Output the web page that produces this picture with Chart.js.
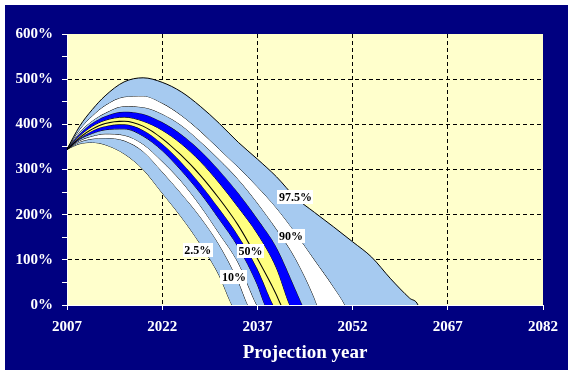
<!DOCTYPE html>
<html>
<head>
<meta charset="utf-8">
<script src="https://cdn.jsdelivr.net/npm/chart.js@4/dist/chart.umd.min.js"></script>
<style>
  html, body { margin: 0; padding: 0; background: #fff; }
  canvas { display: block; }
</style>
</head>
<body>
<canvas id="fan" width="573" height="375"></canvas>
<script>
// projection years
const years = [2007, 2009, 2011, 2013, 2016, 2019, 2022, 2025, 2028, 2031, 2034, 2037, 2040, 2043, 2046, 2049, 2052, 2055, 2058, 2061];

// percentile curves (%), read until each one runs out at 0%
const p975 = [345, 396, 433, 463, 494, 503, 493, 472, 440, 402, 360, 323, 284, 238, 205, 173, 140, 106, 58, 15];
const p90  = [345, 389, 419, 442, 461, 463, 447, 420, 385, 345, 305, 262, 215, 160, 100, 40];
const p80  = [345, 383, 408, 425, 440, 438, 423, 398, 362, 322, 278, 226, 168, 103, 15];
const p70  = [345, 379, 403, 418, 428, 423, 405, 378, 342, 298, 248, 191, 128, 35];
const p60  = [345, 375, 396, 409, 416, 407, 387, 357, 318, 270, 216, 158, 82];
const p50  = [345, 372, 391, 403, 408, 397, 370, 333, 289, 237, 178, 105, 25];
const p40  = [345, 369, 386, 396, 400, 387, 357, 316, 268, 213, 153, 80];
const p30  = [345, 367, 380, 388, 390, 374, 342, 298, 248, 190, 128, 45];
const p20  = [345, 364, 374, 379, 376, 356, 318, 274, 220, 158, 93];
const p10  = [345, 361, 368, 370, 364, 340, 295, 247, 195, 133, 52];
const p025 = [345, 357, 360, 355, 335, 300, 248, 195, 135, 65];

// year where each curve reaches 0%
const zeroYear = { p975: 2062.3, p90: 2050.8, p80: 2046.4, p70: 2044.1, p60: 2042.1, p50: 2040.8, p40: 2039.5, p30: 2038.2, p20: 2036.9, p10: 2035.5, p025: 2033.0 };

const xTicks = [2007, 2022, 2037, 2052, 2067, 2082];
const yTicks = [0, 50, 100, 150, 200, 250, 300, 350, 400, 450, 500, 550, 600];

const bandLabels = [
  { text: '97.5%', year: 2043.0, value: 239 },
  { text: '90%',   year: 2042.3, value: 153 },
  { text: '50%',   year: 2035.9, value: 120 },
  { text: '2.5%',  year: 2027.6, value: 122 },
  { text: '10%',   year: 2033.3, value: 62 }
];

const NAVY = '#000080', CREAM = '#FFFFCC', LBLUE = '#A6CAF0', BLUE = '#0000FF', YELLOW = '#FFFF80';

function curve(vals, zero) {
  const pts = vals.map((v, i) => ({ x: years[i], y: v }));
  pts.push({ x: zero, y: 0 });
  pts.push({ x: 2082, y: -1000 }); // runs off below the axis, clipped
  return pts;
}

function band(name, vals, fillColor, width) {
  return {
    label: name,
    data: curve(vals, zeroYear[name]),
    borderColor: '#000',
    borderWidth: width || 1,
    backgroundColor: fillColor,
    fill: fillColor ? '+1' : false,
    pointRadius: 0,
    cubicInterpolationMode: 'monotone'
  };
}

const backdrop = {
  id: 'backdrop',
  beforeDraw(chart) {
    const { ctx, chartArea: a } = chart;
    ctx.save();
    ctx.fillStyle = '#fff';
    ctx.fillRect(0, 0, chart.width, chart.height);
    ctx.fillStyle = NAVY;
    ctx.fillRect(5, 5, chart.width - 10, chart.height - 10);
    ctx.fillStyle = CREAM;
    ctx.fillRect(a.left, a.top, a.right - a.left, a.bottom - a.top);
    ctx.restore();
  }
};

const tags = {
  id: 'tags',
  afterDatasetsDraw(chart) {
    const { ctx, scales: { x, y } } = chart;
    ctx.save();
    ctx.font = 'bold 12px "Liberation Serif", serif';
    ctx.textAlign = 'center';
    ctx.textBaseline = 'middle';
    bandLabels.forEach(l => {
      const px = x.getPixelForValue(l.year), py = y.getPixelForValue(l.value);
      const w = ctx.measureText(l.text).width + 3;
      ctx.fillStyle = '#fff';
      ctx.fillRect(Math.round(px - w / 2), Math.round(py - 7), Math.round(w), 14);
      ctx.fillStyle = '#000';
      ctx.fillText(l.text, px, py + 1);
    });
    ctx.restore();
  }
};

const tickFont = { family: '"Liberation Serif", serif', size: 15, weight: 'bold' };

new Chart(document.getElementById('fan'), {
  type: 'line',
  data: {
    datasets: [
      band('p975', p975, LBLUE),
      band('p90', p90, '#FFFFFF'),
      band('p80', p80, LBLUE),
      band('p70', p70, BLUE),
      band('p60', p60, YELLOW),
      band('p50', p50, YELLOW, 2),
      band('p40', p40, BLUE),
      band('p30', p30, LBLUE),
      band('p20', p20, '#FFFFFF'),
      band('p10', p10, LBLUE),
      band('p025', p025, null)
    ]
  },
  options: {
    responsive: false,
    animation: false,
    devicePixelRatio: 1,
    layout: { padding: { left: 0, right: 30, top: 34, bottom: 0 } },
    plugins: { legend: { display: false }, tooltip: { enabled: false } },
    scales: {
      x: {
        type: 'linear',
        min: 2007,
        max: 2082,
        afterBuildTicks: s => { s.ticks = xTicks.map(v => ({ value: v })); },
        afterFit: s => { s.height = 70; },
        ticks: { color: '#fff', font: tickFont, padding: 8, maxRotation: 0, callback: v => String(v) },
        grid: {
          color: c => (c.tick && (c.tick.value === 2007 || c.tick.value === 2082)) ? 'rgba(0,0,0,0)' : '#000',
          tickColor: '#fff',
          tickLength: 5,
          lineWidth: 1
        },
        border: { color: '#fff', width: 1, dash: [4, 3] },
        title: {
          display: true,
          text: 'Projection year',
          color: '#fff',
          font: { family: '"Liberation Serif", serif', size: 19, weight: 'bold' },
          padding: { top: 0, bottom: 11 }
        }
      },
      y: {
        min: 0,
        max: 600,
        afterBuildTicks: s => { s.ticks = yTicks.map(v => ({ value: v })); },
        afterFit: s => { s.width = 67; },
        ticks: { color: '#fff', font: tickFont, padding: 9, callback: v => (v % 100 === 0 ? v + '%' : '') },
        grid: {
          color: c => {
            const v = c.tick && c.tick.value;
            return (v === 0 || v === 600 || v % 100 !== 0) ? 'rgba(0,0,0,0)' : '#000';
          },
          tickColor: '#fff',
          tickLength: 5,
          lineWidth: 1
        },
        border: { color: '#fff', width: 1, dash: [4, 3] }
      }
    }
  },
  plugins: [backdrop, tags]
});
</script>
</body>
</html>
